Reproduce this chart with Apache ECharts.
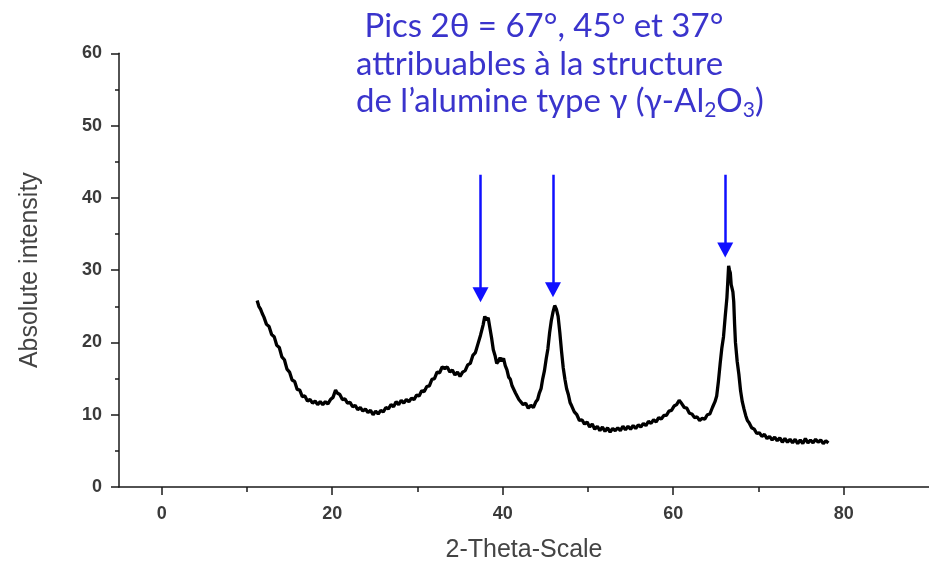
<!DOCTYPE html>
<html>
<head>
<meta charset="utf-8">
<script src="https://cdn.jsdelivr.net/npm/echarts@6/dist/echarts.min.js"></script>
<style>
html,body{margin:0;padding:0;background:#fff;}
#chart{width:929px;height:572px;}
</style>
</head>
<body>
<div id="chart"></div>
<script>
// 2-theta positions (degrees)
const twoTheta = [
11.2,11.4,11.6,11.8,12.0,12.3,12.6,12.9,13.2,13.5,13.8,14.1,14.4,14.7,15.0,15.3,15.6,15.9,16.2,16.5,16.8,17.1,17.4,17.7,18.0,18.3,18.6,18.9,19.2,19.5,19.8,20.1,20.4,20.6,20.9,21.2,21.5,21.8,22.1,22.4,22.7,23.0,23.3,23.6,23.9,24.2,24.5,24.8,25.1,25.4,25.7,26.0,26.3,26.6,26.9,27.2,27.5,27.8,28.1,28.4,28.7,29.0,29.3,29.6,29.9,30.2,30.5,30.8,31.1,31.4,31.7,32.0,32.3,32.6,32.9,33.2,33.5,33.8,34.1,34.4,34.7,35.0,35.3,35.6,35.9,36.2,36.5,36.8,37.1,37.4,37.7,37.9,38.1,38.3,38.5,38.7,38.9,39.1,39.3,39.5,39.7,39.9,40.1,40.3,40.5,40.7,40.9,41.1,41.3,41.5,41.7,41.9,42.1,42.4,42.7,43.0,43.3,43.6,43.9,44.1,44.3,44.5,44.7,44.9,45.1,45.3,45.5,45.7,45.9,46.1,46.3,46.5,46.7,46.9,47.1,47.3,47.5,47.7,47.9,48.1,48.4,48.7,49.0,49.3,49.6,49.9,50.2,50.5,50.8,51.1,51.4,51.7,52.0,52.3,52.6,52.9,53.2,53.5,53.8,54.1,54.4,54.7,55.0,55.3,55.6,55.9,56.2,56.5,56.8,57.1,57.4,57.7,58.0,58.3,58.6,58.9,59.2,59.5,59.8,60.1,60.4,60.7,60.9,61.1,61.3,61.6,61.9,62.2,62.5,62.8,63.1,63.4,63.7,64.0,64.3,64.6,64.9,65.1,65.3,65.5,65.7,65.9,66.1,66.3,66.4,66.5,66.6,66.7,66.8,67.0,67.1,67.2,67.3,67.5,67.7,67.9,68.1,68.3,68.5,68.7,68.9,69.2,69.5,69.8,70.1,70.4,70.7,71.0,71.3,71.6,71.9,72.2,72.5,72.8,73.1,73.4,73.7,74.0,74.3,74.6,74.9,75.2,75.5,75.8,76.1,76.4,76.7,77.0,77.3,77.6,77.9,78.2
];
// absolute intensity
const intensity = [
25.8,25.0,24.6,24.0,23.5,22.5,22.2,21.1,20.8,19.6,19.3,18.0,17.6,16.3,15.9,14.8,14.6,13.5,13.4,12.5,12.6,11.9,12.1,11.6,11.9,11.4,11.8,11.4,11.8,11.5,12.1,12.4,13.4,13.0,12.8,12.1,12.2,11.6,11.7,11.1,11.3,10.7,11.0,10.5,10.8,10.3,10.6,10.0,10.5,10.1,10.6,10.4,11.0,10.8,11.4,11.1,11.8,11.4,12.0,11.6,12.1,11.8,12.3,12.1,12.7,12.6,13.3,13.2,13.9,14.0,14.9,15.0,15.9,15.8,16.6,16.4,16.6,15.9,16.2,15.5,15.9,15.3,15.9,16.1,16.9,17.1,18.2,18.6,19.8,21.0,22.4,23.6,23.1,23.4,22.0,20.6,19.0,18.2,17.1,17.4,17.9,17.4,17.8,16.8,16.2,15.2,14.9,14.0,13.8,13.0,12.8,12.1,12.2,11.4,11.6,10.9,11.3,11.0,11.8,12.1,13.0,13.6,15.0,16.1,17.7,19.1,21.3,23.0,24.2,25.1,24.6,23.6,21.4,18.8,16.5,14.9,13.6,12.8,11.7,11.2,10.4,10.0,9.2,9.3,8.7,9.0,8.3,8.7,8.0,8.4,7.8,8.3,7.7,8.2,7.6,8.1,7.8,8.2,7.8,8.4,7.9,8.4,8.0,8.5,8.1,8.6,8.3,8.8,8.5,9.1,8.8,9.3,9.0,9.6,9.4,9.9,9.9,10.5,10.6,11.2,11.4,12.0,11.7,11.6,11.0,10.9,10.2,10.1,9.6,9.7,9.2,9.5,9.4,10.0,10.1,11.0,11.8,12.6,14.6,17.0,19.2,20.8,23.6,26.2,28.4,30.6,30.0,29.6,28.0,27.0,25.6,22.5,20.0,17.4,15.6,13.3,11.8,10.8,9.9,9.2,8.9,8.2,8.0,7.4,7.5,7.0,7.3,6.7,7.0,6.5,6.9,6.4,6.8,6.2,6.7,6.2,6.6,6.1,6.6,6.0,6.5,6.0,6.7,6.1,6.5,6.1,6.6,6.2,6.5,6.0,6.4,6.1
];
// axis ticks
const xMajorTicks = [0, 20, 40, 60, 80];
const xMinorTicks = [10, 30, 50, 70];
const xTickLabels = ['0', '20', '40', '60', '80'];
const yTickLabels = ['0', '10', '20', '30', '40', '50', '60'];
// annotation arrows (2θ position, top value, head value)
const arrowX = [37.4, 45.9, 66.1];
const arrowTop = [43.2, 43.2, 43.2];
const arrowHead = [26.6, 27.3, 32.8];
// annotation text
const noteLines = [
  ' Pics 2θ = 67°, 45° et 37°',
  'attribuables à la structure',
  'de l’alumine type γ (γ-Al{sub|2}O{sub|3})'
];

const chart = echarts.init(document.getElementById('chart'), null, {renderer: 'canvas'});
const grid = {left: 119, top: 53.3, width: 813.2, height: 433.7};
const axisColor = '#1a1a1a';
const labelFont = {fontFamily: 'Liberation Sans, Arial, sans-serif', fontSize: 18, fontWeight: 'bold', color: '#3a3a3a'};
const nameFont = {fontFamily: 'Liberation Sans, Arial, sans-serif', fontSize: 25, color: '#444'};

const option = {
  backgroundColor: '#fff',
  animation: false,
  grid: grid,
  xAxis: [{
    type: 'value', min: -5, max: 90,
    name: '2-Theta-Scale', nameLocation: 'middle', nameGap: 51,
    nameTextStyle: nameFont,
    axisLine: {show: true, onZero: false, lineStyle: {color: axisColor, width: 1.5}},
    axisTick: {show: true, length: 8, lineStyle: {color: axisColor, width: 1.5}, customValues: xMajorTicks},
    axisLabel: Object.assign({margin: 18, customValues: xMajorTicks,
      formatter: v => xTickLabels[xMajorTicks.indexOf(v)] || ''}, labelFont),
    splitLine: {show: false}
  }, {
    type: 'value', min: -5, max: 90, position: 'bottom', gridIndex: 0,
    axisLine: {show: false, onZero: false},
    axisTick: {show: true, length: 5, lineStyle: {color: axisColor, width: 1.5}, customValues: xMinorTicks},
    axisLabel: {show: false},
    splitLine: {show: false}
  }],
  yAxis: {
    type: 'value', min: 0, max: 60, interval: 10,
    name: 'Absolute intensity', nameLocation: 'middle', nameGap: 76,
    nameTextStyle: nameFont,
    axisLine: {show: true, onZero: false, lineStyle: {color: axisColor, width: 1.5}},
    axisTick: {show: true, length: 8, lineStyle: {color: axisColor, width: 1.5}},
    minorTick: {show: true, splitNumber: 2, length: 4, lineStyle: {color: axisColor, width: 1.5}},
    axisLabel: Object.assign({margin: 17, formatter: v => yTickLabels[Math.round(v / 10)]}, labelFont),
    splitLine: {show: false}
  },
  series: [{
    type: 'line',
    data: twoTheta.map((x, i) => [x, intensity[i]]),
    showSymbol: false,
    symbol: 'none',
    lineStyle: {color: '#000', width: 3.3},
    silent: true,
    markLine: {
      silent: true,
      symbol: ['none', 'triangle'],
      symbolSize: [16, 15],
      label: {show: false},
      lineStyle: {color: '#1010ff', width: 2.5, type: 'solid'},
      itemStyle: {color: '#1010ff'},
      data: arrowX.map((x, i) => [{coord: [x, arrowTop[i]]}, {coord: [x, arrowHead[i]]}])
    }
  }],
  graphic: [{
    type: 'text', left: 356, top: 8,
    style: {
      text: noteLines.join('\n'),
      fontFamily: 'Lato, sans-serif', fontSize: 33, lineHeight: 37.5,
      fill: '#3a34cc',
      rich: {
        sub: {fontFamily: 'Lato, sans-serif', fontSize: 21, fill: '#3a34cc', verticalAlign: 'bottom', lineHeight: 26, padding: [16, 0, 0, 0]}
      }
    }
  }]
};
chart.setOption(option);
</script>
</body>
</html>
